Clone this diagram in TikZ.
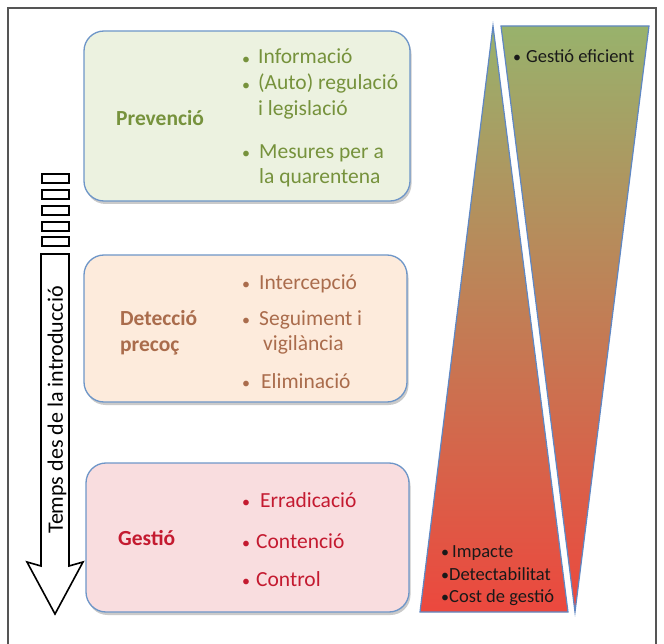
\documentclass[tikz,border=0pt]{standalone}
\usepackage{fontspec}
\setmainfont{Carlito}
\usetikzlibrary{shadows}
\definecolor{framecol}{RGB}{85,85,85}
\definecolor{boxblue}{RGB}{110,150,200}
\definecolor{triblue}{RGB}{95,135,195}
\definecolor{prevfill}{RGB}{236,242,224}
\definecolor{detfill}{RGB}{253,235,220}
\definecolor{gesfill}{RGB}{249,221,223}
\definecolor{prevtxt}{RGB}{118,146,60}
\definecolor{dettxt}{RGB}{170,108,76}
\definecolor{gestxt}{RGB}{196,26,48}
\definecolor{triGreen}{RGB}{152,178,108}
\definecolor{triBrown}{RGB}{188,142,88}
\definecolor{triRed}{RGB}{236,72,62}
\tikzset{
  box/.style={draw=boxblue, line width=1.3pt, rounded corners=20pt,
    drop shadow={shadow xshift=1.5pt, shadow yshift=-3pt, opacity=0.35, fill=black!60}},
  btxt/.style={font=\fontsize{21.5}{25}\selectfont, anchor=base west, inner sep=0pt},
  bul/.style={font=\fontsize{16}{18}\selectfont, anchor=base west, inner sep=0pt},
  ttl/.style={font=\bfseries\fontsize{21.5}{25}\selectfont, anchor=base west, inner sep=0pt},
  ttxt/.style={font=\fontsize{18.5}{21}\selectfont, anchor=base west, inner sep=0pt, text=black!90},
  tbul/.style={font=\fontsize{16}{18}\selectfont, anchor=base west, inner sep=0pt, text=black!90},
  tri/.style={draw=triblue, line width=1.2pt, top color=triGreen, middle color=triBrown, bottom color=triRed},
  tofu/.style={draw=black, line width=1.6pt}
}
\begin{document}
\begin{tikzpicture}[x=1pt,y=-1pt]
\useasboundingbox (0,0) rectangle (664,644);
% frame
\draw[framecol, line width=1.5pt] (8,660) -- (8,8) -- (656,8) -- (656,660);
% boxes
\draw[box, fill=prevfill] (84,31) rectangle (410,201);
\draw[box, fill=detfill] (84,255) rectangle (407,402);
\draw[box, fill=gesfill] (86,463) rectangle (409,612);
% triangles
\draw[tri] (493,26) -- (568,612) -- (420,612) -- cycle;
\draw[tri] (501,26) -- (649,26) -- (575,612) -- cycle;
% arrow
\draw[line width=1.6pt, fill=white, line join=miter]
  (41,254) -- (41,566) -- (27,562) -- (55,614) -- (83,562) -- (69,566) -- (69,254) -- cycle;
\foreach \yy in {174,190,206,222,237} {
  \draw[tofu] (42,\yy) rectangle (69,\yy+9);
}
\node[rotate=90, font=\fontsize{22}{26}\selectfont, inner sep=0pt] (arrowlbl) at (57,410) {Temps des de la introducció};
% Prevencio
\node[ttl, text=prevtxt] (prevT) at (116,126) {Prevenció};
\node[bul, text=prevtxt] (pb1) at (242,65) {•};
\node[btxt, text=prevtxt] (pt1) at (258,64) {Informació};
\node[bul, text=prevtxt] (pb2) at (242,91) {•};
\node[btxt, text=prevtxt] (pt2) at (258,90) {(Auto) regulació};
\node[btxt, text=prevtxt] (pt3) at (258,116) {i legislació};
\node[bul, text=prevtxt] (pb4) at (242,159) {•};
\node[btxt, text=prevtxt] (pt4) at (259,159) {Mesures per a};
\node[btxt, text=prevtxt] (pt5) at (259,184) {la quarentena};
% Deteccio
\node[ttl, text=dettxt] (detT1) at (120,326) {Detecció};
\node[ttl, text=dettxt] (detT2) at (120,352) {precoç};
\node[bul, text=dettxt] (db1) at (242,290) {•};
\node[btxt, text=dettxt] (dt1) at (259,290) {Intercepció};
\node[bul, text=dettxt] (db2) at (242,326) {•};
\node[btxt, text=dettxt] (dt2) at (259,326) {Seguiment i};
\node[btxt, text=dettxt] (dt3) at (263,351) {vigilància};
\node[bul, text=dettxt] (db4) at (242,388) {•};
\node[btxt, text=dettxt] (dt4) at (261,388) {Eliminació};
% Gestio
\node[ttl, text=gestxt] (gesT) at (118,545) {Gestió};
\node[bul, text=gestxt] (gb1) at (242,507) {•};
\node[btxt, text=gestxt] (gt1) at (260,507) {Erradicació};
\node[bul, text=gestxt] (gb2) at (242,548) {•};
\node[btxt, text=gestxt] (gt2) at (256,548) {Contenció};
\node[bul, text=gestxt] (gb3) at (242,586) {•};
\node[btxt, text=gestxt] (gt3) at (256,586) {Control};
% triangle texts
\node[tbul] (eb) at (513,63) {•};
\node[ttxt] (et) at (526,63) {Gestió eficient};
\node[tbul] (ib1) at (441,557) {•};
\node[ttxt] (it1) at (452,557) {Impacte};
\node[tbul] (ib2) at (441,580) {•};
\node[ttxt] (it2) at (449,580) {Detectabilitat};
\node[tbul] (ib3) at (441,602) {•};
\node[ttxt] (it3) at (449,602) {Cost de gestió};
\end{tikzpicture}
\end{document}
